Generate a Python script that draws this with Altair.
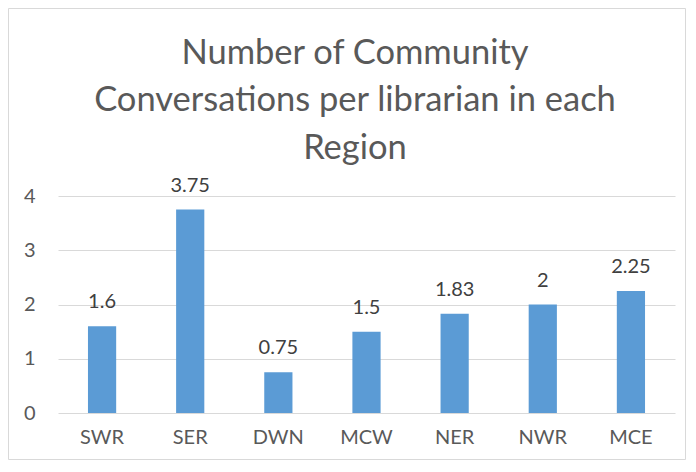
import altair as alt
import pandas as pd

regions = ["SWR", "SER", "DWN", "MCW", "NER", "NWR", "MCE"]
values = [1.6, 3.75, 0.75, 1.5, 1.83, 2, 2.25]
labels = ["1.6", "3.75", "0.75", "1.5", "1.83", "2", "2.25"]
y_ticks = [0, 1, 2, 3, 4]
title_lines = ["Number of Community", "Conversations per librarian in each", "Region"]

df = pd.DataFrame({"region": regions, "value": values, "label": labels})
title_df = pd.DataFrame({"t": ["\n".join(title_lines)]})

W, H = 617, 217
PL, PT, PR, PB = 50, 188, 11, 47
FONT = "Lato"

x = alt.X(
    "region:N",
    sort=regions,
    scale=alt.Scale(paddingInner=0.68, paddingOuter=0.34),
    axis=alt.Axis(
        title=None, labelAngle=0, domain=False, ticks=False, grid=False,
        labelPadding=14, labelFontSize=20, labelColor="#595959", labelFont=FONT,
    ),
)
y = alt.Y(
    "value:Q",
    scale=alt.Scale(domain=[0, 4]),
    axis=alt.Axis(
        title=None, values=y_ticks, format="d", domain=False, ticks=False, grid=True,
        gridColor="#d9d9d9", gridWidth=1, labelPadding=23, labelFontSize=20,
        labelColor="#595959", labelFont=FONT,
    ),
)

bars = alt.Chart(df).mark_bar(color="#5B9BD5").encode(x=x, y=y)
text = alt.Chart(df).mark_text(
    dy=-18, baseline="alphabetic", fontSize=20, color="#404040", font=FONT
).encode(x=alt.X("region:N", sort=regions), y="value:Q", text="label:N")

frame = alt.Chart(pd.DataFrame({"f": [0]})).mark_rect(
    fillOpacity=0, stroke="#d9d9d9", strokeWidth=1
).encode(
    x=alt.value(-PL + 0.5), x2=alt.value(W + PR - 0.5),
    y=alt.value(-PT + 0.5), y2=alt.value(H + PB - 0.5),
)

title = alt.Chart(title_df).mark_text(
    fontSize=34.5, font=FONT, color="#595959", lineHeight=47.5, lineBreak="\n",
    align="center", baseline="top",
).encode(x=alt.value(W / 2 - 11.5), y=alt.value(-159.5), text="t:N")

chart = (
    alt.layer(frame, bars, text, title)
    .properties(
        width=W, height=H,
        autosize=alt.AutoSizeParams(type="none"),
        padding={"left": PL, "top": PT, "right": PR, "bottom": PB},
    )
    .configure_view(stroke=None)
)

chart.save("out.html", embed_options={"renderer": "svg", "actions": False})
